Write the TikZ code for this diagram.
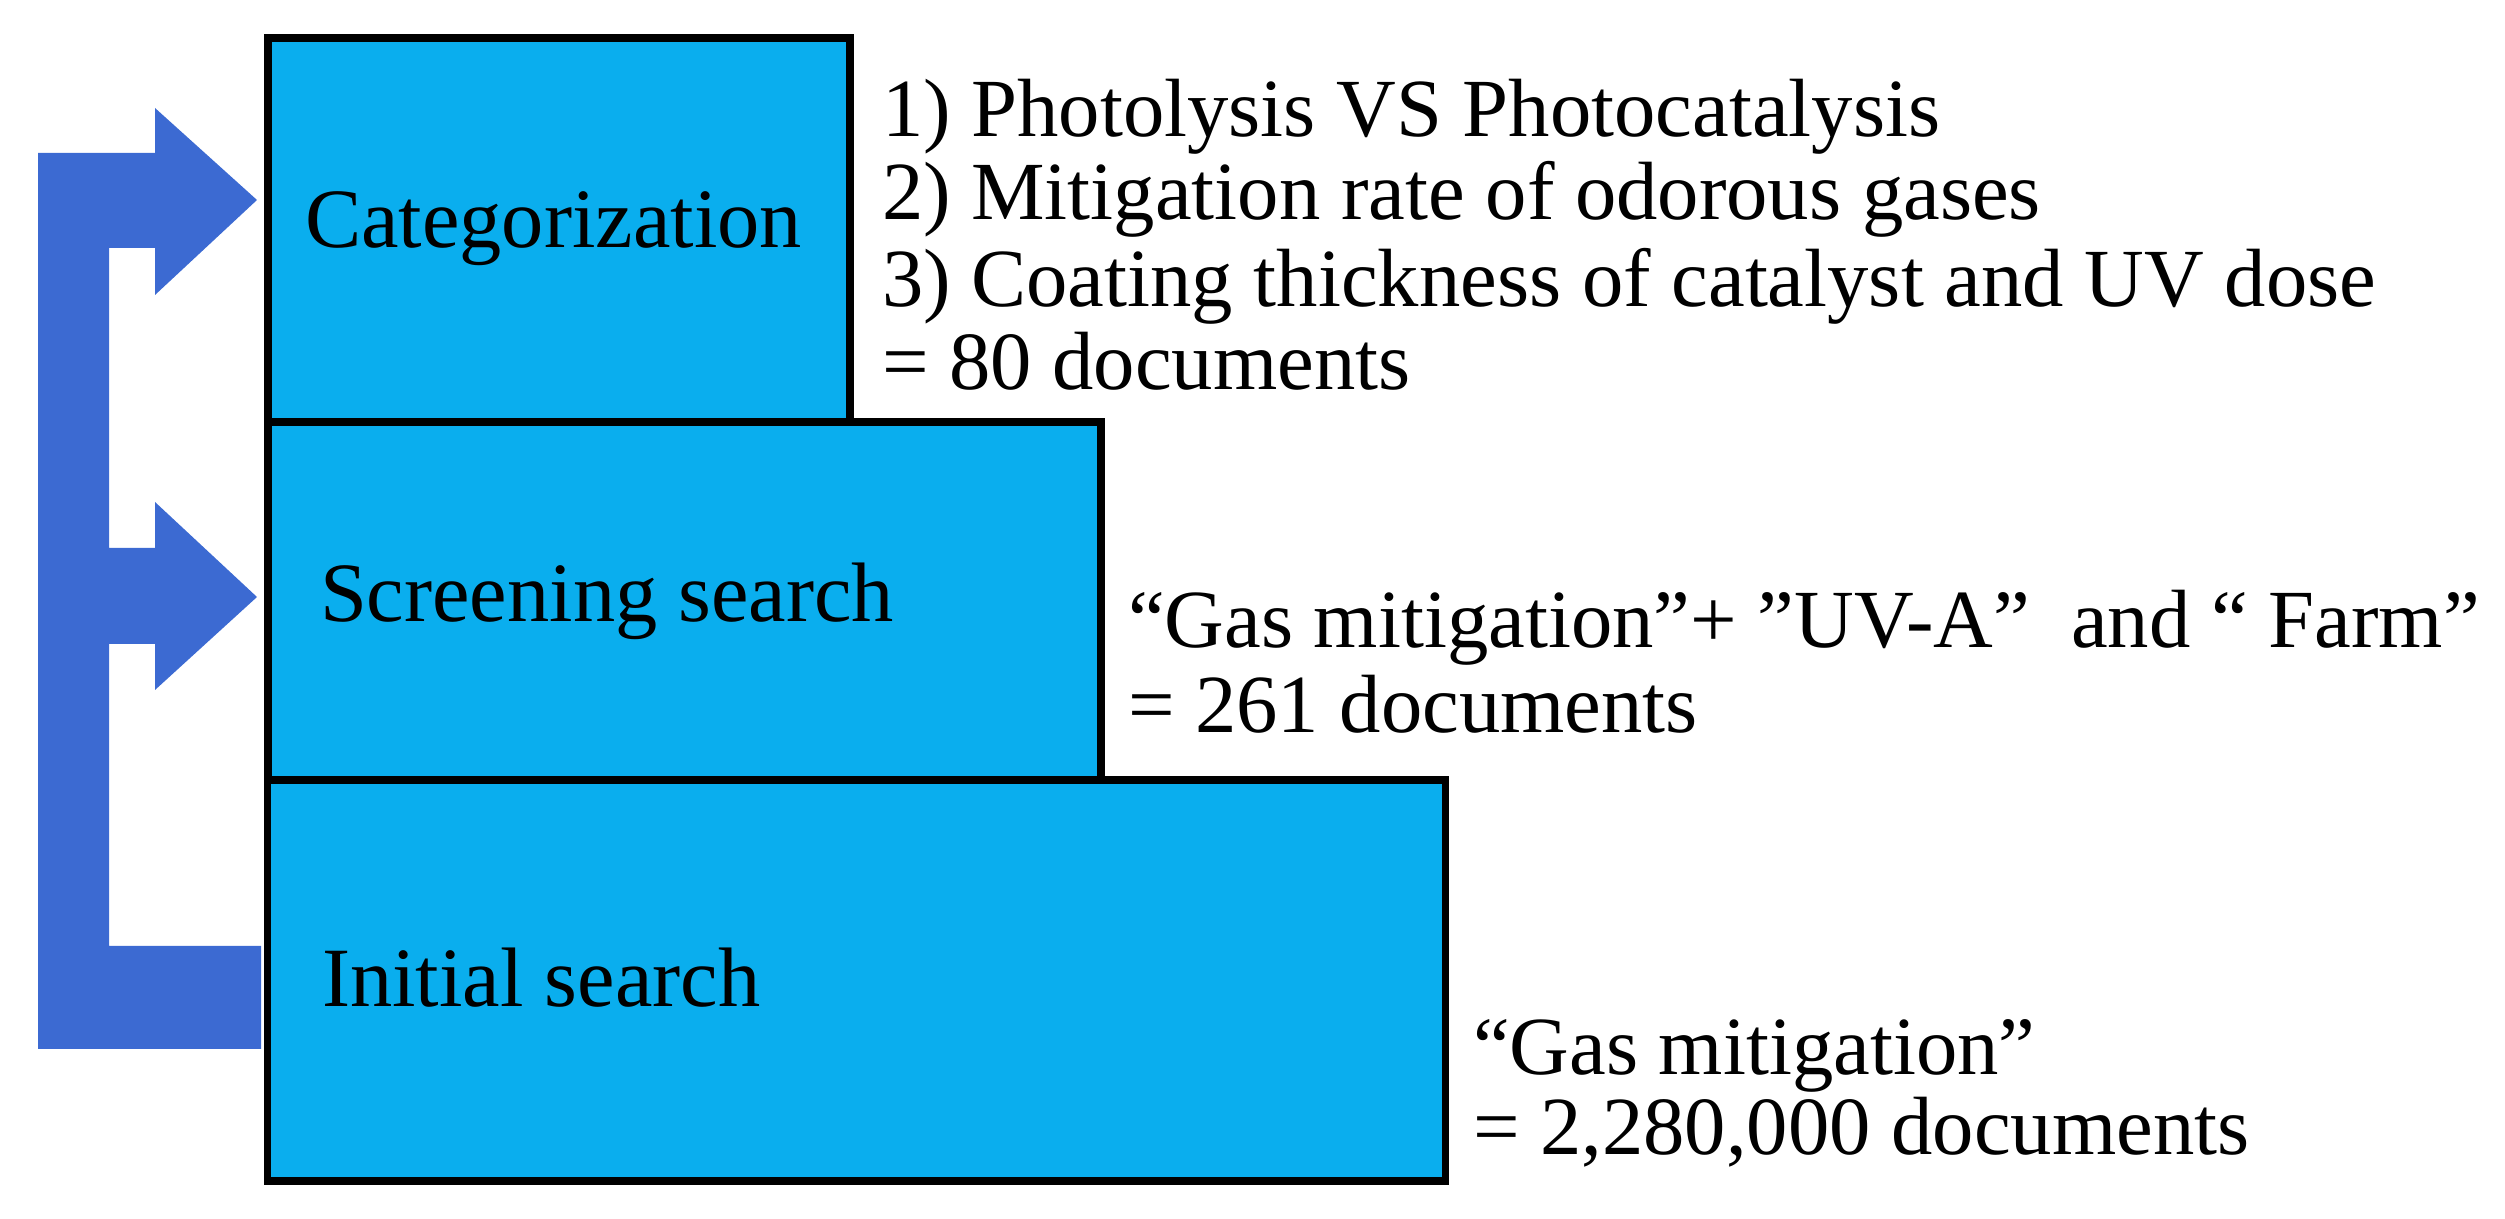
\documentclass[tikz,border=0pt]{standalone}
\usepackage{fontspec}
\setmainfont{Liberation Serif}
\definecolor{boxblue}{RGB}{10,174,238}
\definecolor{arrowblue}{RGB}{60,106,210}
\tikzset{
  stage/.style={draw=black, line width=0.075cm, fill=boxblue, inner sep=0pt, outer sep=0pt},
  lbl/.style={anchor=base west, inner sep=0pt, outer sep=0pt, font=\fontsize{24}{26}\selectfont},
  note/.style={anchor=base west, inner sep=0pt, outer sep=0pt, font=\fontsize{23.5}{26}\selectfont}
}
\begin{document}
\begin{tikzpicture}[x=0.01cm, y=-0.01cm]
\useasboundingbox (0,0) rectangle (2505,1219);
% stacked boxes
\node[stage, minimum width=11.77cm, minimum height=4.01cm] (init) at (856.5,980.5) {};
\node[stage, minimum width=8.33cm, minimum height=3.58cm] (screen) at (684.5,601) {};
\node[stage, minimum width=5.82cm, minimum height=3.84cm] (cat) at (559,230) {};
% block arrow
\fill[arrowblue] (38,1049) -- (261,1049) -- (261,946) -- (109,946) -- (109,644)
  -- (155,644) -- (155,690) -- (257,597) -- (155,502) -- (155,548) -- (109,548)
  -- (109,248) -- (155,248) -- (155,295) -- (257,200) -- (155,108) -- (155,153)
  -- (38,153) -- cycle;
% box labels
\node[lbl] (catl) at (305,248) {Categorization};
\node[lbl] (screenl) at (320,622) {Screening search};
\node[lbl] (initl) at (322,1007) {Initial search};
% notes
\node[note] (c1) at (882,137) {1) Photolysis VS Photocatalysis};
\node[note] (c2) at (882,220) {2) Mitigation rate of odorous gases};
\node[note] (c3) at (882,307) {3) Coating thickness of catalyst and UV dose};
\node[note] (c4) at (882,390) {= 80 documents};
\node[note] (s1) at (1128,648) {“Gas mitigation”+ ”UV-A”\ \ and “ Farm”};
\node[note] (s2) at (1128,733) {= 261 documents};
\node[note] (i1) at (1473,1075) {“Gas mitigation”};
\node[note] (i2) at (1473,1155) {= 2,280,000 documents};
\end{tikzpicture}
\end{document}
